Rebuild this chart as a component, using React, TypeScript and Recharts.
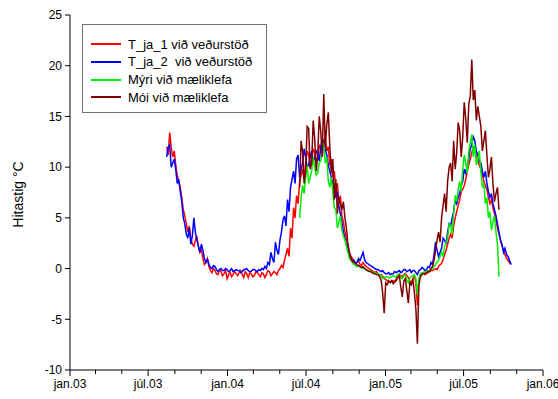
import React from 'react';
import { LineChart, Line, XAxis, YAxis, Label } from 'recharts';

// x values are days since 1 Jan 2003; readings every 3.5 days
const START_DAY = 224;
const STEP = 3.5;
const LATE_START = 532; // Mýri / Mói series begin here

const tJa1 = [
  12.0, 11.2, 13.4, 12.0, 11.0, 11.6, 10.2, 9.2, 8.6, 8.0, 7.0, 5.8, 5.2, 4.4, 3.6, 4.2, 3.0, 2.4, 2.2, 2.8,
  3.2, 2.2, 1.6, 1.8, 1.0, 0.4, 0.6, 1.0, 0.2, -0.2, -0.4, 0.0, -0.2, -0.5, -0.6, -0.1, -0.3, -0.7, -0.5, -0.2,
  -1.0, -0.6, -0.4, -0.8, -0.6, -0.3, -0.5, -0.7, -0.4, -0.2, -0.6, -0.9, -0.3, -0.5, -0.9, -0.4, -0.5, -0.8, -0.7, -0.3,
  -0.4, -0.6, -0.8, -0.4, -0.5, -0.9, -0.6, -0.2, -0.3, -0.7, -0.5, -0.3, -0.4, -0.6, -0.2, 0.0, 0.3, 0.1, 0.8, 1.4,
  2.0, 1.2, 4.0, 3.0, 6.0, 5.0, 7.2, 6.4, 8.5, 9.2, 9.8, 8.8, 10.5, 11.6, 11.2, 10.0, 10.6, 11.8, 11.4, 10.4,
  11.0, 12.2, 11.8, 11.0, 12.4, 13.0, 11.6, 12.0, 10.2, 10.8, 9.0, 9.6, 7.8, 8.4, 6.4, 7.2, 5.2, 4.6, 3.6, 3.0,
  2.2, 1.6, 1.2, 1.0, 0.8, 0.5, 0.6, 0.8, 0.4, 0.3, 0.6, 0.4, 0.2, 0.1, 0.0, -0.1, -0.2, -0.3, -0.4, -0.3,
  -0.5, -0.7, -0.6, -0.8, -0.9, -1.1, -1.2, -1.3, -1.3, -1.2, -1.2, -1.3, -1.0, -0.8, -0.6, -0.7, -0.8, -0.6, -0.5, -0.7,
  -0.9, -1.2, -1.5, -1.0, -0.7, -1.4, -3.6, -1.2, -0.6, -0.5, -0.4, -0.6, -0.5, -0.4, -0.3, -0.2, -0.2, -0.1, 0.0, -0.1,
  0.2, 0.4, 0.5, 0.9, 1.4, 1.8, 2.4, 3.0, 3.4, 3.0, 4.2, 5.0, 5.6, 6.2, 6.8, 7.6, 7.8, 8.2, 8.8, 9.6,
  10.2, 10.8, 11.4, 12.0, 11.8, 11.2, 10.6, 10.2, 9.8, 9.2, 8.6, 8.2, 7.8, 7.0, 6.4, 6.8, 6.0, 5.4, 4.8, 4.0,
  3.4, 2.8, 2.2, 1.8, 1.4, 1.0, 0.8, 0.6, 0.4,
];

const tJa2 = [
  11.0, 12.0, 12.2, 10.0, 10.4, 10.8, 9.8, 8.4, 8.8, 7.6, 6.6, 5.0, 4.4, 3.4, 3.0, 4.0, 2.4, 3.2, 5.0, 3.6,
  2.8, 2.2, 1.6, 2.4, 1.8, 1.0, 0.6, 0.9, 0.4, 0.1, 0.0, 0.3, 0.2, -0.1, -0.3, -0.1, 0.0, -0.2, -0.2, 0.0,
  -0.1, -0.3, -0.2, 0.0, -0.3, -0.2, -0.1, -0.2, -0.2, -0.4, -0.3, -0.1, -0.1, 0.0, -0.2, -0.3, -0.3, -0.1, -0.1, -0.2,
  -0.3, -0.1, -0.2, 0.0, -0.1, 0.2, 0.0, 0.6, 0.4, 1.6, 1.0, 0.6, 2.6, 1.8, 1.4, 2.8, 3.6, 4.8, 5.2, 4.2,
  6.8, 5.6, 8.0, 8.8, 9.6, 8.4, 10.8, 11.2, 9.0, 9.8, 10.4, 11.8, 11.0, 10.0, 10.2, 11.0, 11.6, 10.6, 10.8, 11.6,
  11.4, 10.6, 12.0, 12.8, 12.6, 11.8, 11.2, 10.2, 9.6, 9.0, 8.4, 7.8, 7.0, 7.6, 6.2, 5.4, 4.6, 3.6, 3.0, 2.4,
  1.8, 1.2, 1.0, 0.7, 0.8, 0.5, 0.6, 1.0, 0.8, 1.2, 1.6, 0.9, 0.6, 0.5, 0.4, 0.3, 0.2, 0.1, 0.0, -0.1,
  -0.1, -0.2, -0.3, -0.2, -0.4, -0.5, -0.5, -0.4, -0.6, -0.5, -0.5, -0.3, -0.4, -0.3, -0.2, -0.4, -0.3, -0.1, -0.1, -0.3,
  -0.2, -0.1, -0.4, -0.2, -0.2, -0.4, -0.6, -0.2, -0.1, 0.1, 0.0, -0.2, -0.1, 0.2, 0.1, 0.6, 0.4, 1.4, 2.6, 1.8,
  1.2, 1.6, 2.0, 3.0, 2.8, 2.4, 3.6, 4.4, 4.2, 5.0, 5.6, 6.8, 6.4, 7.0, 7.4, 8.2, 8.6, 9.8, 9.4, 10.2,
  10.8, 11.8, 12.2, 13.0, 12.6, 11.6, 11.2, 10.6, 10.4, 9.6, 9.0, 9.6, 8.4, 7.6, 7.0, 7.4, 6.4, 5.8, 5.2, 4.4,
  3.6, 2.8, 2.4, 1.6, 2.0, 1.4, 1.2, 0.8, 0.4,
];

const myri = [
  5.0, 7.0, 8.2, 7.4, 9.0, 10.2, 8.4, 9.0, 9.6, 11.0, 10.0, 9.2, 9.4, 10.4, 10.6, 11.6, 12.4, 10.4, 11.0, 8.6,
  8.0, 9.0, 7.4, 6.0, 5.8, 4.0, 4.6, 5.2, 3.8, 3.2, 2.8, 2.2, 1.6, 1.0, 0.8, 0.6, 0.4, 0.3, 0.2, 0.3,
  0.2, 0.1, 0.0, 0.0, -0.1, -0.2, -0.2, -0.3, -0.3, -0.4, -0.4, -0.5, -0.5, -0.6, -0.7, -1.0, -0.9, -0.8, -0.8, -0.9,
  -0.9, -0.8, -0.7, -0.8, -0.8, -0.6, -0.5, -0.9, -1.0, -0.7, -0.6, -1.2, -1.4, -0.9, -0.8, -0.7, -0.6, -1.0, -2.6, -1.0,
  -0.5, -0.4, -0.4, -0.3, -0.3, -0.2, -0.2, -0.1, 0.0, 0.2, 0.4, 0.6, 0.8, 1.2, 1.6, 1.2, 2.2, 2.6, 3.0, 4.4,
  4.2, 3.4, 5.4, 7.2, 6.6, 7.8, 8.6, 7.6, 9.8, 11.2, 10.4, 9.4, 11.6, 12.4, 13.2, 11.0, 12.2, 10.2, 10.8, 11.6,
  9.6, 8.0, 8.4, 6.4, 7.0, 5.0, 5.6, 3.8, 4.6, 5.2, 3.6, 2.4, -0.8,
];

const moi = [
  8.0, 12.6, 11.5, 8.4, 9.6, 14.0, 13.8, 9.8, 10.4, 14.6, 12.8, 9.6, 11.2, 15.0, 13.6, 11.0, 17.2, 12.0, 14.2, 15.4,
  12.0, 9.4, 10.8, 6.8, 8.8, 5.4, 7.0, 6.4, 5.8, 6.6, 5.0, 4.0, 2.4, 1.6, 1.0, 0.7, 0.6, 0.5, 0.4, 0.3,
  0.2, 0.1, 0.2, 0.0, -0.1, -0.2, -0.3, -0.3, -0.4, -0.5, -0.5, -0.6, -0.6, -0.8, -1.2, -2.4, -4.4, -1.4, -1.6, -1.2,
  -1.4, -1.2, -1.5, -1.3, -1.2, -0.9, -0.7, -1.8, -2.8, -1.2, -1.0, -2.2, -3.4, -1.4, -1.6, -1.0, -2.4, -4.0, -7.4, -1.6,
  -0.8, -0.6, -0.5, -0.5, -0.4, -0.3, -0.3, 0.0, 0.2, 0.8, 1.8, 2.8, 3.6, 2.6, 5.0, 6.2, 7.4, 5.6, 8.6, 10.0,
  10.4, 8.6, 12.6, 9.8, 11.4, 14.4, 13.6, 11.0, 13.0, 16.4, 14.8, 12.4, 16.2, 17.0, 20.6, 16.6, 17.6, 14.6, 16.0, 15.0,
  14.0, 11.6, 12.6, 13.6, 11.2, 9.0, 9.8, 11.0, 8.4, 6.6, 7.4, 8.0, 5.8,
];

const majorTicks = [0, 181, 365, 547, 731, 912, 1096];
const majorLabels = ['jan.03', 'júl.03', 'jan.04', 'júl.04', 'jan.05', 'júl.05', 'jan.06'];
const minorTicks = [59, 120, 243, 304, 425, 486, 609, 670, 790, 851, 974, 1035];
const yTicks = [-10, -5, 0, 5, 10, 15, 20, 25];

const seriesInfo = [
  { key: 't1', name: 'T_ja_1 við veðurstöð', color: '#ff0000' },
  { key: 't2', name: 'T_ja_2  við veðurstöð', color: '#0000ff' },
  { key: 'myri', name: 'Mýri við mæliklefa', color: '#00ee00' },
  { key: 'moi', name: 'Mói við mæliklefa', color: '#800000' },
];

const lateOffset = Math.round((LATE_START - START_DAY) / STEP);

const data = tJa1.map((v, i) => {
  const j = i - lateOffset;
  return {
    day: START_DAY + i * STEP,
    t1: v,
    t2: tJa2[i] ?? null,
    myri: j >= 0 && j < myri.length ? myri[j] : null,
    moi: j >= 0 && j < moi.length ? moi[j] : null,
  };
});

const allTicks = [...majorTicks, ...minorTicks].sort((a, b) => a - b);
const labelFor = new Map(majorTicks.map((d, i) => [d, majorLabels[i]]));
const FONT = 'Arial, "Liberation Sans", sans-serif';

function DateTick(props: any) {
  const { x, y, payload } = props;
  const label = labelFor.get(payload.value);
  return (
    <g>
      <line x1={x} x2={x} y1={y} y2={y + (label ? 6 : 4)} stroke="#000" />
      {label && (
        <text x={x} y={y + 18} textAnchor="middle" fontSize={12} fill="#000" fontFamily={FONT}>
          {label}
        </text>
      )}
    </g>
  );
}

function YTitle(props: any) {
  const { viewBox } = props;
  const cx = viewBox.x + 18;
  const cy = viewBox.y + viewBox.height / 2 + 2;
  return (
    <text
      x={cx}
      y={cy}
      transform={`rotate(-90 ${cx} ${cy})`}
      textAnchor="middle"
      dominantBaseline="central"
      fontSize={14}
      fontFamily={FONT}
      fill="#000"
    >
      Hitastig °C
    </text>
  );
}

export default function App() {
  return (
    <div style={{ position: 'absolute', left: 0, top: 0, width: 558, height: 399, background: '#fff', fontFamily: FONT }}>
      <LineChart width={558} height={399} data={data} margin={{ top: 15, right: 15, left: 0, bottom: 0 }}>
        <XAxis
          dataKey="day"
          type="number"
          domain={[0, 1096]}
          ticks={allTicks}
          interval={0}
          tick={<DateTick />}
          tickLine={false}
          tickSize={0}
          tickMargin={0}
          height={29}
          axisLine={{ stroke: '#000' }}
        />
        <XAxis
          xAxisId="top"
          orientation="top"
          type="number"
          domain={[0, 1096]}
          height={0}
          tick={false}
          tickLine={false}
          axisLine={{ stroke: '#000' }}
        />
        <YAxis
          type="number"
          domain={[-10, 25]}
          ticks={yTicks}
          interval={0}
          width={70}
          tickSize={5}
          tickMargin={3}
          tick={{ fill: '#000', fontSize: 12, fontFamily: FONT }}
          tickLine={{ stroke: '#000' }}
          axisLine={{ stroke: '#000' }}
        >
          <Label content={<YTitle />} />
        </YAxis>
        <YAxis
          yAxisId="right"
          orientation="right"
          type="number"
          domain={[-10, 25]}
          width={0}
          tick={false}
          tickLine={false}
          axisLine={{ stroke: '#000' }}
        />
        {seriesInfo.map((s) => (
          <Line
            key={s.key}
            type="linear"
            dataKey={s.key}
            stroke={s.color}
            strokeWidth={1.5}
            dot={false}
            isAnimationActive={false}
          />
        ))}
      </LineChart>
      <div
        style={{
          position: 'absolute',
          left: 82,
          top: 24,
          width: 183,
          height: 87,
          border: '1px solid #707070',
          background: '#fff',
        }}
      >
        {seriesInfo.map((s, i) => (
          <div
            key={s.key}
            style={{
              position: 'absolute',
              left: 0,
              top: 10 + i * 17.8,
              height: 18,
              display: 'flex',
              alignItems: 'center',
              whiteSpace: 'pre',
              fontSize: 13,
              color: '#000',
            }}
          >
            <span style={{ display: 'inline-block', marginLeft: 8, width: 30, height: 2, background: s.color }} />
            <span style={{ marginLeft: 7 }}>{s.name}</span>
          </div>
        ))}
      </div>
    </div>
  );
}
